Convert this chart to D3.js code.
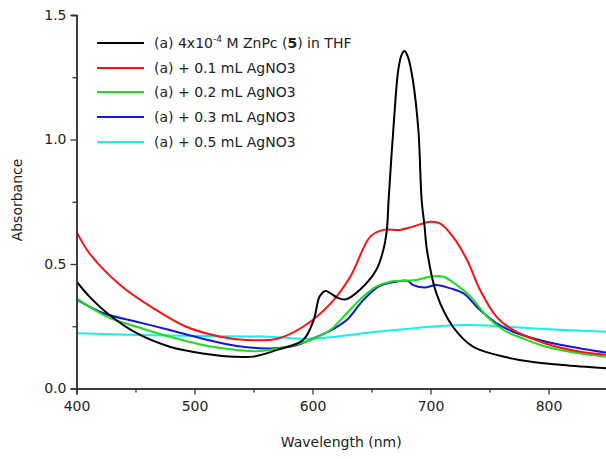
<!DOCTYPE html>
<html>
<head>
<meta charset="utf-8">
<script src="https://cdn.jsdelivr.net/npm/d3@7/dist/d3.min.js"></script>
<style>
  body { margin: 0; background: #fff; }
  svg text { font-family: "DejaVu Sans", sans-serif; fill: #222; }
</style>
</head>
<body>
<div class="chart"></div>
<script>
// wavelength (nm) and absorbance
var blackWl = [400, 411, 428, 451, 479, 507, 533, 550, 570, 592, 601, 606, 611, 616, 621, 628, 640, 654, 660, 663, 664.5, 668.5, 672.7, 675.5, 678, 681, 685, 689.7, 692.5, 695, 697, 705, 719, 736, 756, 784, 812, 850];
var blackAbs = [0.43, 0.369, 0.295, 0.222, 0.168, 0.141, 0.128, 0.128, 0.155, 0.195, 0.275, 0.369, 0.392, 0.38, 0.365, 0.358, 0.396, 0.476, 0.556, 0.637, 0.757, 1.04, 1.28, 1.34, 1.355, 1.33, 1.24, 1.04, 0.757, 0.65, 0.556, 0.382, 0.248, 0.168, 0.135, 0.108, 0.094, 0.081];

var redWl = [400, 411, 437, 465, 493, 522, 544, 570, 592, 615, 632, 649, 660, 674, 685, 700, 708, 719, 731, 742, 756, 770, 798, 827, 850];
var redAbs = [0.63, 0.543, 0.416, 0.323, 0.248, 0.208, 0.195, 0.2, 0.248, 0.34, 0.449, 0.61, 0.637, 0.637, 0.65, 0.67, 0.663, 0.61, 0.516, 0.396, 0.288, 0.235, 0.18, 0.148, 0.135];

var greenWl = [400, 426, 451, 479, 507, 536, 553, 578, 598, 615, 629, 643, 654, 666, 680, 688, 700, 711, 722, 734, 748, 762, 779, 798, 827, 850];
var greenAbs = [0.362, 0.288, 0.248, 0.208, 0.175, 0.155, 0.15, 0.168, 0.195, 0.235, 0.302, 0.369, 0.409, 0.429, 0.433, 0.436, 0.449, 0.449, 0.416, 0.369, 0.288, 0.235, 0.2, 0.168, 0.141, 0.128];

var blueWl = [400, 423, 451, 479, 507, 536, 564, 587, 604, 615, 629, 643, 657, 671, 681, 685, 695, 705, 717, 728, 742, 756, 770, 798, 827, 850];
var blueAbs = [0.358, 0.302, 0.268, 0.235, 0.2, 0.171, 0.161, 0.175, 0.208, 0.232, 0.275, 0.355, 0.412, 0.429, 0.432, 0.416, 0.406, 0.416, 0.402, 0.382, 0.315, 0.262, 0.228, 0.188, 0.161, 0.144];

var cyanWl = [400, 451, 507, 564, 592, 615, 643, 671, 700, 728, 756, 784, 813, 850];
var cyanAbs = [0.222, 0.215, 0.211, 0.208, 0.2, 0.206, 0.222, 0.235, 0.248, 0.255, 0.251, 0.242, 0.235, 0.228];

var legendLabels = ['(a) + 0.1 mL AgNO3', '(a) + 0.2 mL AgNO3', '(a) + 0.3 mL AgNO3', '(a) + 0.5 mL AgNO3'];
var xTicks = [400, 500, 600, 700, 800];
var yTicks = [0, 0.5, 1.0, 1.5];

var series = [
  { wl: blackWl, abs: blackAbs, color: '#000000' },
  { wl: redWl, abs: redAbs, color: '#ff1010' },
  { wl: greenWl, abs: greenAbs, color: '#18e018' },
  { wl: blueWl, abs: blueAbs, color: '#1414e6' },
  { wl: cyanWl, abs: cyanAbs, color: '#12f0f0' }
];

var width = 606, height = 459;
var plotLeft = 76.5, plotRight = 607.5, plotTop = 15, plotBottom = 388.5;

var svg = d3.select('.chart').append('svg')
  .attr('width', width)
  .attr('height', height);

var x = d3.scaleLinear().domain([400, 850]).range([plotLeft, plotRight]);
var y = d3.scaleLinear().domain([0, 1.5]).range([plotBottom, plotTop]);

svg.append('defs').append('clipPath').attr('id', 'plot')
  .append('rect').attr('x', plotLeft).attr('y', 0).attr('width', width - plotLeft).attr('height', plotBottom);

// curves
var line = d3.line()
  .x(function(d) { return x(d[0]); })
  .y(function(d) { return y(d[1]); })
  .curve(d3.curveCatmullRom.alpha(0.5));

var g = svg.append('g').attr('clip-path', 'url(#plot)');
// cyan at the bottom, black on top
series.slice().reverse().forEach(function(s) {
  g.append('path')
    .attr('d', line(d3.zip(s.wl, s.abs)))
    .attr('fill', 'none')
    .attr('stroke', s.color)
    .attr('stroke-width', 2);
});

// axes
svg.append('g')
  .attr('transform', 'translate(0,' + plotBottom + ')')
  .call(d3.axisBottom(x).tickValues(xTicks).tickFormat(d3.format('d')).tickSize(6).tickPadding(7));
svg.append('g')
  .attr('transform', 'translate(0,' + plotBottom + ')')
  .call(d3.axisBottom(x).tickValues([450, 550, 650, 750]).tickFormat('').tickSize(4));

svg.append('g')
  .attr('transform', 'translate(' + plotLeft + ',0)')
  .call(d3.axisLeft(y).tickValues(yTicks).tickFormat(d3.format('.1f')).tickSize(6).tickPadding(4));
svg.append('g')
  .attr('transform', 'translate(' + plotLeft + ',0)')
  .call(d3.axisLeft(y).tickValues([0.25, 0.75, 1.25]).tickFormat('').tickSize(4));

svg.selectAll('.domain').attr('stroke', '#333').attr('stroke-width', 1.5);
svg.selectAll('.tick line').attr('stroke', '#333').attr('stroke-width', 1.3);
svg.selectAll('.tick text').style('font-size', '14px').attr('fill', '#222');

svg.append('text')
  .attr('x', (plotLeft + width) / 2)
  .attr('y', 447)
  .attr('text-anchor', 'middle')
  .style('font-size', '14px')
  .text('Wavelength (nm)');

svg.append('text')
  .attr('transform', 'translate(22,200) rotate(-90)')
  .attr('text-anchor', 'middle')
  .style('font-size', '14px')
  .text('Absorbance');

// legend
var legend = svg.append('g');
var rowY = [43, 68, 92, 117, 142];
series.forEach(function(s, i) {
  legend.append('line')
    .attr('x1', 97).attr('x2', 144)
    .attr('y1', rowY[i]).attr('y2', rowY[i])
    .attr('stroke', s.color).attr('stroke-width', 2);
});
var first = legend.append('text')
  .attr('x', 154).attr('y', rowY[0] + 5)
  .style('font-size', '14px');
first.append('tspan').text('(a) 4x10');
first.append('tspan').attr('dy', -6).style('font-size', '9px').text('-4');
first.append('tspan').attr('dy', 6).text(' M ZnPc (');
first.append('tspan').style('font-weight', 'bold').text('5');
first.append('tspan').text(') in THF');
legendLabels.forEach(function(t, i) {
  legend.append('text')
    .attr('x', 154).attr('y', rowY[i + 1] + 5)
    .style('font-size', '14px')
    .text(t);
});
</script>
</body>
</html>
